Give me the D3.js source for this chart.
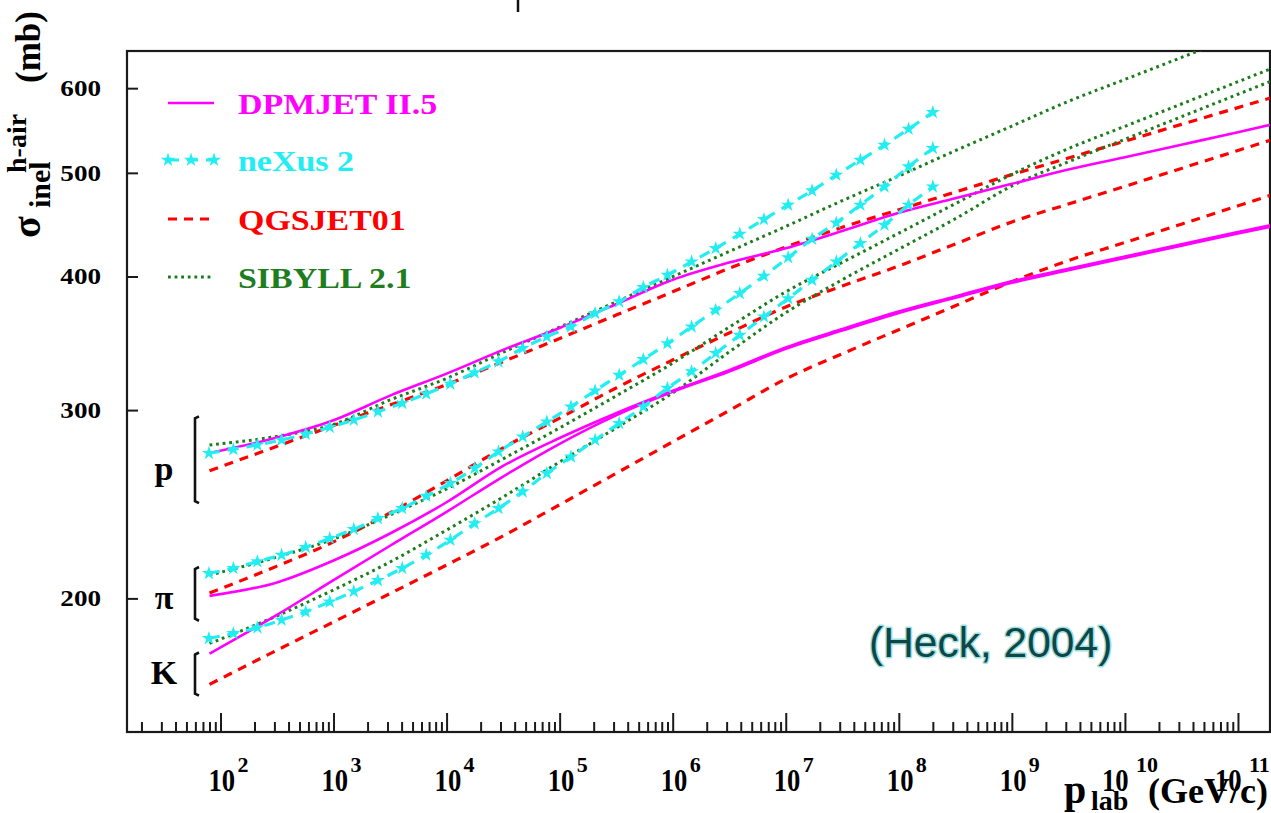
<!DOCTYPE html>
<html>
<head>
<meta charset="utf-8">
<script src="https://cdn.jsdelivr.net/npm/d3@7"></script>
<style>
  body { margin: 0; background: #fff; }
  svg { display: block; }
  .serif { font-family: "Liberation Serif", "Times New Roman", serif; font-weight: bold; }
</style>
</head>
<body>
<svg id="chart" width="1271" height="813"></svg>
<script>
// Lab momentum grid (GeV/c) shared by DPMJET, QGSJET and SIBYLL curves
const plabGrid = [80, 316, 1e3, 3.16e3, 1e4, 3.16e4, 1e5, 3.16e5, 1e6, 3.16e6, 1e7,
                  3.16e7, 1e8, 3.16e8, 1e9, 3.16e9, 1e10, 3.16e10, 1e11, 2e11];

// Inelastic hadron-air cross sections (mb)
const dpmjetP  = [273.5, 282.8, 293.5, 309.5, 324.5, 341.5, 358.0, 376.8, 397.2, 412.2, 425.0, 441.1, 458.8, 473.4, 488.3, 503.5, 517.1, 531.2, 545.8, 555.0];
const dpmjetPi = [201.1, 207.0, 217.0, 230.0, 246.0, 266.0, 282.5, 298.0, 312.7, 326.9, 343.3, 357.2, 370.9, 383.2, 395.9, 406.7, 417.6, 428.8, 440.3, 446.9];
const dpmjetK  = [177.6, 193.0, 208.0, 224.0, 241.0, 260.0, 279.0, 296.6, 312.0, 326.0, 342.3, 356.1, 369.8, 382.0, 394.6, 405.4, 416.3, 427.4, 438.9, 445.5];

const qgsjetP  = [263.3, 277.5, 290.2, 303.3, 316.9, 333.0, 350.0, 368.1, 387.0, 407.1, 426.2, 444.7, 461.8, 479.7, 498.1, 516.2, 535.3, 555.0, 575.4, 588.0];
const qgsjetPi = [202.3, 214.4, 225.9, 240.4, 257.6, 276.6, 294.9, 314.6, 334.2, 354.2, 374.6, 391.9, 409.2, 429.0, 449.8, 467.5, 485.7, 504.8, 524.7, 537.0];
const qgsjetK  = [166.2, 178.9, 190.1, 202.1, 214.9, 228.8, 244.7, 261.8, 280.2, 299.7, 320.8, 338.7, 356.7, 375.6, 395.6, 413.9, 430.4, 447.7, 465.7, 476.9];

const sibyllP  = [278.3, 283.5, 290.9, 306.6, 321.2, 339.8, 358.7, 378.7, 399.8, 422.1, 445.5, 470.9, 496.6, 524.4, 553.0, 583.2, 611.4, 641.0, 672.4, 692.0];
const sibyllPi = [210.3, 218.6, 227.3, 239.3, 253.2, 270.1, 288.7, 309.3, 331.9, 358.7, 387.0, 412.3, 439.1, 467.9, 498.4, 526.8, 552.7, 579.9, 608.4, 626.2];
const sibyllK  = [181.5, 192.6, 203.7, 216.3, 231.7, 248.8, 268.3, 288.7, 311.3, 340.0, 370.0, 397.2, 424.2, 452.9, 486.1, 512.1, 537.5, 564.2, 592.2, 609.6];

// neXus 2 is computed on its own momentum points (each one carries a star marker)
const nexusPlab = [79, 130, 212, 347, 567, 926, 1510, 2470, 4050, 6610, 1.08e4, 1.77e4, 2.88e4, 4.71e4, 7.70e4,
                   1.26e5, 2.06e5, 3.36e5, 5.50e5, 8.98e5, 1.47e6, 2.40e6, 3.92e6, 6.41e6, 1.05e7, 1.71e7,
                   2.80e7, 4.57e7, 7.47e7, 1.22e8, 2.00e8];
const nexusP  = [273.4, 275.7, 278.3, 281.3, 284.9, 289.1, 293.7, 299.0, 304.5, 310.7, 317.4, 325.2, 333.0, 342.7, 351.4,
                 359.0, 369.5, 378.9, 390.8, 401.3, 412.9, 425.0, 438.3, 452.4, 466.6, 481.2, 497.7, 514.0, 530.9, 549.5, 569.6];
const nexusPi = [211.1, 213.4, 216.5, 219.6, 223.3, 227.6, 232.1, 237.6, 242.8, 249.3, 256.3, 264.7, 274.3, 283.3, 292.6,
                 302.2, 312.8, 323.5, 334.6, 346.3, 359.0, 372.1, 385.7, 400.4, 416.7, 433.6, 449.0, 466.6, 485.3, 506.7, 527.2];
const nexusK  = [183.5, 185.5, 187.8, 190.9, 194.3, 198.5, 203.0, 207.9, 213.4, 219.6, 226.8, 235.0, 242.8, 251.7, 261.8,
                 271.3, 281.3, 291.6, 302.2, 314.5, 326.0, 339.1, 352.6, 366.8, 381.5, 396.9, 412.9, 429.6, 446.9, 466.6, 485.3];

// Axis ticks and labels
const yTickValues = [200, 300, 400, 500, 600];
const xDecadeExponents = [2, 3, 4, 5, 6, 7, 8, 9, 10, 11];
const minorMultipliers = [2, 3, 4, 5, 6, 7, 8, 9];

// Model styling and legend entries
const models = [
  { name: "DPMJET II.5", color: "#ff00ff", dash: null,      width: 2.6, textColor: "#ff00ff" },
  { name: "neXus 2",     color: "#22eef2", dash: "11,8",    width: 3.2, textColor: "#22eef2", star: true },
  { name: "QGSJET01",    color: "#ff0000", dash: "9,7",     width: 3.2, textColor: "#ff0000" },
  { name: "SIBYLL 2.1",  color: "#1a7d1a", dash: "2.8,3.8", width: 3.0, textColor: "#1e7d1e" }
];

// Particle group brackets on the left (cross-section range each one spans)
const groups = [
  { label: "p", top: 296, bottom: 245.5, labelValue: 264 },
  { label: "π", top: 214, bottom: 190.6, labelValue: 200 },
  { label: "K", top: 178, bottom: 162.2, labelValue: 170.5 }
];

const svg = d3.select("#chart");
const plot = { left: 127, right: 1270, top: 51, bottom: 732 };

const x = d3.scaleLog().domain([14.9, 1.92e11]).range([plot.left, plot.right]);
const y = d3.scaleLog().domain([150, 650]).range([plot.bottom, plot.top]);

svg.append("defs").append("clipPath").attr("id", "plotClip")
  .append("rect")
  .attr("x", plot.left).attr("y", plot.top)
  .attr("width", plot.right - plot.left).attr("height", plot.bottom - plot.top);

// Frame
svg.append("rect")
  .attr("x", plot.left).attr("y", plot.top)
  .attr("width", plot.right - plot.left).attr("height", plot.bottom - plot.top)
  .attr("fill", "none").attr("stroke", "#1a1a1a").attr("stroke-width", 2.2);

// X ticks: decades long, 2..9 short, all pointing into the plot
const [xmin, xmax] = x.domain();
const majorX = d3.range(1, 12).map(n => Math.pow(10, n)).filter(v => v >= xmin && v <= xmax);
const minorX = d3.range(1, 12).flatMap(n => minorMultipliers.map(m => m * Math.pow(10, n)))
  .filter(v => v >= xmin && v <= xmax);

function styleAxis(g) {
  g.select(".domain").remove();
  g.selectAll(".tick line").attr("stroke", "#1a1a1a").attr("stroke-width", 2);
  g.selectAll(".tick text").remove();
}

svg.append("g").attr("transform", `translate(0,${plot.bottom})`)
  .call(d3.axisBottom(x).tickValues(majorX).tickSize(-19).tickFormat(""))
  .call(styleAxis);
svg.append("g").attr("transform", `translate(0,${plot.bottom})`)
  .call(d3.axisBottom(x).tickValues(minorX).tickSize(-10).tickFormat(""))
  .call(styleAxis);

// Y ticks
svg.append("g").attr("transform", `translate(${plot.left},0)`)
  .call(d3.axisLeft(y).tickValues(yTickValues).tickSize(-11).tickFormat(""))
  .call(styleAxis);

// Y tick labels
svg.append("g").selectAll("text").data(yTickValues).join("text")
  .attr("class", "serif")
  .attr("text-anchor", "end")
  .attr("font-size", 24)
  .attr("transform", d => `translate(101,${y(d) + 8}) scale(1.13,1)`)
  .text(d => d);

// X tick labels 10^n
const xLab = svg.append("g").selectAll("g").data(xDecadeExponents).join("g")
  .attr("transform", d => `translate(${x(Math.pow(10, d)) - 12 - 11 * (String(d).length - 1)},791)`);
xLab.append("text").attr("class", "serif").attr("font-size", 31)
  .attr("transform", "scale(0.86,1)").text("10");
xLab.append("text").attr("class", "serif").attr("font-size", 22)
  .attr("x", d => String(d).length > 1 ? 34 : 29).attr("y", -19).text(d => d);

// X axis title: p_lab (GeV/c)
const xTitle = svg.append("g").attr("class", "serif");
xTitle.append("text").attr("x", 1064).attr("y", 803).attr("font-size", 40).text("p");
xTitle.append("text").attr("x", 1091).attr("y", 810).attr("font-size", 28).text("lab");
xTitle.append("text").attr("x", 1268).attr("y", 803).attr("font-size", 36)
  .attr("text-anchor", "end").text("(GeV/c)");

// Y axis title: sigma_inel^h-air (mb)
const yt = svg.append("text").attr("class", "serif")
  .attr("transform", "translate(40,238) rotate(-90)");
yt.append("tspan").attr("x", 0).attr("y", 0).attr("font-size", 40).text("σ");
yt.append("tspan").attr("x", 30).attr("y", 10).attr("font-size", 30).text("inel");
yt.append("tspan").attr("x", 65).attr("y", -14).attr("font-size", 28).text("h-air");
yt.append("tspan").attr("x", 155).attr("y", 0).attr("font-size", 35).text("(mb)");

// Curves
const line = d3.line().x(d => x(d[0])).y(d => y(d[1])).curve(d3.curveMonotoneX);
const curveLayer = svg.append("g").attr("clip-path", "url(#plotClip)");

function drawCurve(plab, sigma, m) {
  const pts = plab.map((p, i) => [p, sigma[i]]);
  curveLayer.append("path").datum(pts)
    .attr("d", line)
    .attr("fill", "none")
    .attr("stroke", m.color)
    .attr("stroke-width", m.width)
    .attr("stroke-dasharray", m.dash);
  if (m.star) {
    curveLayer.append("g").selectAll("path").data(pts).join("path")
      .attr("transform", d => `translate(${x(d[0])},${y(d[1])})`)
      .attr("d", d3.symbol(d3.symbolStar, 62))
      .attr("fill", m.color);
  }
}

// QGSJET and SIBYLL underneath, DPMJET and neXus on top
drawCurve(plabGrid, qgsjetP, models[2]);
drawCurve(plabGrid, qgsjetPi, models[2]);
drawCurve(plabGrid, qgsjetK, models[2]);
drawCurve(plabGrid, sibyllP, models[3]);
drawCurve(plabGrid, sibyllPi, models[3]);
drawCurve(plabGrid, sibyllK, models[3]);
drawCurve(plabGrid, dpmjetP, models[0]);
drawCurve(plabGrid, dpmjetPi, models[0]);
drawCurve(plabGrid, dpmjetK, models[0]);
drawCurve(nexusPlab, nexusP, models[1]);
drawCurve(nexusPlab, nexusPi, models[1]);
drawCurve(nexusPlab, nexusK, models[1]);

// Particle brackets and labels
const gb = svg.append("g");
groups.forEach(g => {
  const y0 = y(g.top), y1 = y(g.bottom);
  gb.append("path")
    .attr("d", `M199,${y0} L195,${y0 + 2} L195,${y1 - 2} L199,${y1}`)
    .attr("fill", "none").attr("stroke", "#111").attr("stroke-width", 2.6);
  gb.append("text").attr("class", "serif")
    .attr("x", 164).attr("y", y(g.labelValue) + 11)
    .attr("text-anchor", "middle")
    .attr("font-size", 34)
    .text(g.label);
});

// Legend
const legendRows = [103, 160, 219, 277];
const leg = svg.append("g");
models.forEach((m, i) => {
  const ly = legendRows[i];
  leg.append("line").attr("x1", 168).attr("x2", 214).attr("y1", ly).attr("y2", ly)
    .attr("stroke", m.color).attr("stroke-width", m.width).attr("stroke-dasharray", m.dash);
  if (m.star) {
    [168, 191, 214].forEach(sx => leg.append("path")
      .attr("transform", `translate(${sx},${ly})`)
      .attr("d", d3.symbol(d3.symbolStar, 62)).attr("fill", m.color));
  }
  leg.append("text").attr("class", "serif")
    .attr("transform", `translate(238,${ly + 11}) scale(1.17,1)`)
    .attr("font-size", 29).attr("fill", m.textColor).text(m.name);
});

// Citation
const cite = svg.append("g").attr("font-family", "Liberation Sans, Arial, sans-serif").attr("font-size", 42.5);
cite.append("text").attr("x", 869).attr("y", 657).attr("fill", "none")
  .attr("stroke", "#9fe0e0").attr("stroke-width", 3).attr("stroke-linejoin", "round").text("(Heck, 2004)");
cite.append("text").attr("x", 869).attr("y", 657).attr("fill", "#0f4646").text("(Heck, 2004)");

// Remnant of the title line above the frame
svg.append("line").attr("x1", 518).attr("x2", 518).attr("y1", 0).attr("y2", 12)
  .attr("stroke", "#111").attr("stroke-width", 2.5);
</script>
</body>
</html>
